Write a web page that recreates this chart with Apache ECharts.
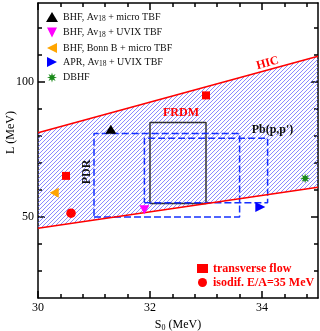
<!DOCTYPE html>
<html><head><meta charset="utf-8">
<script src="https://cdn.jsdelivr.net/npm/echarts@6/dist/echarts.min.js"></script>
<style>html,body{margin:0;padding:0;background:#fff}#c{width:320px;height:331px}</style>
</head><body><div id="c"></div>
<script>
// ---- tick positions ----
const xMajorTicks = [30, 32, 34];
const xMinorTicks = [30.4, 30.8, 31.2, 31.6, 32.4, 32.8, 33.2, 33.6, 34.4, 34.8];
const yMajorTicks = [50, 100];
const yMinorTicks = [30, 40, 60, 70, 80, 90, 110, 120];

// ---- HIC band (S0, L) ----
const hicUpper = [[30, 81.2], [35, 109.5]];
const hicLower = [[30, 45.8], [35, 61.0]];

// ---- constraint boxes: [S0 min, S0 max, L min, L max] ----
const frdmBox = [32.0, 33.0, 55.0, 85.0];
const pdrBox = [31.0, 33.6, 50.0, 80.9];
const pbBox = [31.9, 34.1, 55.3, 79.1];

// ---- theory / experiment points (S0, L) ----
const bhfMicro = [[31.3, 82.5]];
const bhfUvix = [[31.9, 52.7]];
const bhfBonn = [[30.29, 59.0]];
const aprUvix = [[33.97, 53.7]];
const dbhf = [[34.77, 64.3]];
const transverseFlow = [[30.5, 65.2], [33.0, 95.0]];
const isodif = [[30.59, 51.4]];

const SERIF = 'Liberation Serif';

function boxPath(b) {
  return [[b[0], b[2]], [b[1], b[2]], [b[1], b[3]], [b[0], b[3]], [b[0], b[2]]];
}
function starPath(n, ri) {
  let d = '';
  for (let i = 0; i < 2 * n; i++) {
    const r = i % 2 ? ri : 1;
    const a = Math.PI * i / n - Math.PI / 2;
    d += (i ? 'L' : 'M') + ((1 + r * Math.cos(a)) * 10).toFixed(2) + ',' + ((1 + r * Math.sin(a)) * 10).toFixed(2);
  }
  return 'path://' + d + 'Z';
}
const triDown = 'path://M0,0L20,0L10,20Z';
const triLeft = 'path://M20,0L20,20L0,10Z';
const triRight = 'path://M0,0L20,10L0,20Z';

const names = ['BHF, Av18 + micro TBF', 'BHF, Av18 + UVIX TBF', 'BHF, Bonn B + micro TBF', 'APR, Av18 + UVIX TBF', 'DBHF'];
const names2 = ['transverse flow', 'isodif. E/A=35 MeV'];

function xAx(pos, major, first) {
  return {
    type: 'value', min: 30, max: 35, position: pos,
    axisLine: { show: major, onZero: false, lineStyle: { color: '#000', width: 1.5 } },
    axisTick: { show: true, inside: true, length: major ? 7 : 4, customValues: major ? xMajorTicks : xMinorTicks, lineStyle: { color: '#000', width: 1.5 } },
    axisLabel: first ? { show: true, customValues: xMajorTicks, margin: 4, fontFamily: SERIF, fontSize: 12, color: '#000' } : { show: false },
    splitLine: { show: false },
    name: first ? 'S{sub|0} (MeV)' : '', nameLocation: 'middle', nameGap: 18,
    nameTextStyle: { fontFamily: SERIF, fontSize: 12, color: '#000', rich: { sub: { fontFamily: SERIF, fontSize: 8, color: '#000', verticalAlign: 'bottom', padding: [6, 0, 0, 0] } } }
  };
}
function yAx(pos, major, first) {
  return {
    type: 'value', min: 20, max: 129.2, position: pos,
    axisLine: { show: major, onZero: false, lineStyle: { color: '#000', width: 1.5 } },
    axisTick: { show: true, inside: true, length: major ? 7 : 4, customValues: major ? yMajorTicks : yMinorTicks, lineStyle: { color: '#000', width: 1.5 } },
    axisLabel: first ? { show: true, customValues: yMajorTicks, margin: 4, fontFamily: SERIF, fontSize: 12, color: '#000' } : { show: false },
    splitLine: { show: false }
  };
}

function pts(name, data, symbol, size, color) {
  return { type: 'scatter', name, data, symbol, symbolSize: size, itemStyle: { color, opacity: 1 }, z: 5, silent: true };
}
function boxSeries(b, color, type) {
  return { type: 'line', data: boxPath(b), symbol: 'none', lineStyle: { color, width: 1.5, type }, z: 3, silent: true };
}

const chart = echarts.init(document.getElementById('c'), null, { renderer: 'canvas' });
chart.setOption({
  animation: false,
  textStyle: { fontFamily: SERIF },
  grid: { left: 38, right: 2, top: 3, bottom: 33, outerBoundsMode: 'none', containLabel: false },
  xAxis: [xAx('bottom', true, true), xAx('bottom', false, false), xAx('top', true, false), xAx('top', false, false)],
  yAxis: [yAx('left', true, true), yAx('left', false, false), yAx('right', true, false), yAx('right', false, false)],
  legend: [{
    orient: 'vertical', left: 46, top: 12, padding: 0, itemWidth: 12, itemHeight: 10, itemGap: 4,
    data: names,
    formatter: n => n.replace('Av18', 'Av{sub|18}'),
    textStyle: { fontFamily: SERIF, fontSize: 10, color: '#111', rich: { sub: { fontFamily: SERIF, fontSize: 7.5, color: '#111', verticalAlign: 'bottom', padding: [5, 0, 0, 0] } } }
  }, {
    orient: 'vertical', left: 197, top: 262.5, padding: 0, itemWidth: 11, itemHeight: 9, itemGap: 2,
    data: names2,
    textStyle: { fontFamily: SERIF, fontSize: 12, fontWeight: 'bold', color: '#f00' }
  }],
  series: [
    {
      // HIC band, hatched: diagonal lines clipped to the band polygon
      type: 'custom', data: [[30, 50]], silent: true, z: 1, clip: false,
      renderItem(params, api) {
        if (params.dataIndex !== 0) return;
        const cs = params.coordSys;
        const poly = hicUpper.map(q => api.coord(q)).concat(hicLower.slice().reverse().map(q => api.coord(q)));
        const children = [];
        for (let k = -cs.height; k < cs.width + 4; k += 4) {
          children.push({
            type: 'line',
            shape: { x1: cs.x + k, y1: cs.y + cs.height, x2: cs.x + k + cs.height, y2: cs.y },
            style: { stroke: '#6464ff', lineWidth: 0.75 }
          });
        }
        return { type: 'group', clipPath: { type: 'polygon', shape: { points: poly } }, children };
      }
    },
    { type: 'line', data: hicUpper, symbol: 'none', lineStyle: { color: '#f00', width: 1.5 }, z: 4, silent: true },
    { type: 'line', data: hicLower, symbol: 'none', lineStyle: { color: '#f00', width: 1.5 }, z: 4, silent: true },
    boxSeries(frdmBox, '#333', 'solid'),
    boxSeries(pdrBox, '#1530ff', [7, 3]),
    boxSeries(pbBox, '#1530ff', [7, 3]),
    pts(names[0], bhfMicro, 'triangle', [11, 9], '#000'),
    pts(names[1], bhfUvix, triDown, [10, 9], '#ff00ff'),
    pts(names[2], bhfBonn, triLeft, [9, 10], '#ffa500'),
    pts(names[3], aprUvix, triRight, [10, 10], '#0000ff'),
    pts(names[4], dbhf, starPath(8, 0.45), [10, 10], '#1a8a1a'),
    pts(names2[0], transverseFlow, 'rect', [8, 8], '#f00'),
    pts(names2[1], isodif, 'circle', [9.5, 9.5], '#f00')
  ],
  graphic: [
    { type: 'text', x: 11, y: 132.5, rotation: Math.PI / 2, z: 10, style: { text: 'L (MeV)', font: '12px "Liberation Serif"', fill: '#000', align: 'center', verticalAlign: 'middle' } },
    { type: 'text', x: 267.5, y: 63.3, rotation: 15.4 * Math.PI / 180, z: 10, style: { text: 'HIC', font: 'bold 12px "Liberation Serif"', fill: '#f00', align: 'center', verticalAlign: 'middle' } },
    { type: 'text', x: 181, y: 113.3, z: 10, style: { text: 'FRDM', font: 'bold 12px "Liberation Serif"', fill: '#f00', align: 'center', verticalAlign: 'middle' } },
    { type: 'text', x: 272.5, y: 130, z: 10, style: { text: "Pb(p,p')", font: 'bold 12px "Liberation Serif"', fill: '#111', align: 'center', verticalAlign: 'middle' } },
    { type: 'text', x: 87, y: 172, rotation: Math.PI / 2, z: 10, style: { text: 'PDR', font: 'bold 12px "Liberation Serif"', fill: '#111', align: 'center', verticalAlign: 'middle' } }
  ]
});
</script>
</body></html>
